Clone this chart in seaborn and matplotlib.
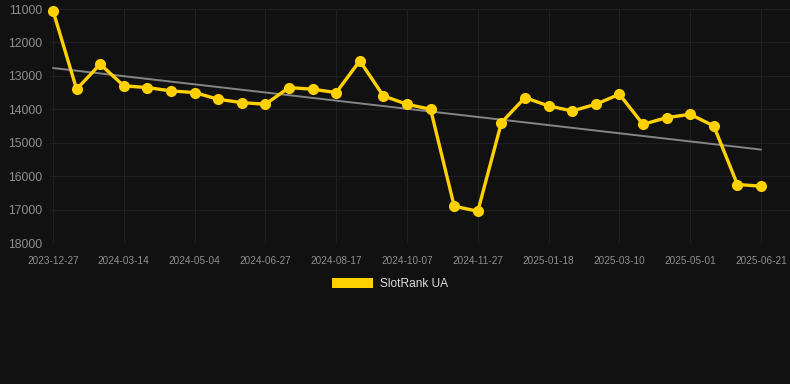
import numpy as np
import pandas as pd
import matplotlib
matplotlib.use("Agg")
import matplotlib.pyplot as plt
import seaborn as sns
from matplotlib.patches import Patch

# tick labels (every 3rd sample)
tick_labels = ["2023-12-27", "2024-03-14", "2024-05-04", "2024-06-27", "2024-08-17",
               "2024-10-07", "2024-11-27", "2025-01-18", "2025-03-10", "2025-05-01",
               "2025-06-21"]

# rank values
ranks = [11050, 13400, 12650, 13300, 13350, 13450, 13500, 13700, 13800, 13850,
         13350, 13400, 13500, 12550, 13600, 13850, 14000, 16900, 17050, 14400,
         13650, 13900, 14050, 13850, 13550, 14450, 14250, 14150, 14500, 16250,
         16300]

series_name = "SlotRank UA"

df = pd.DataFrame({"idx": np.arange(len(ranks)), "rank": ranks})

# linear trend
coef = np.polyfit(df["idx"], df["rank"], 1)
df["trend"] = np.polyval(coef, df["idx"])

bg = "#111111"
sns.set_style("dark", {"axes.facecolor": bg, "figure.facecolor": bg,
                       "grid.color": "#1f1f1f", "axes.edgecolor": bg})
plt.rcParams["font.family"] = ["Liberation Sans", "DejaVu Sans"]

fig = plt.figure(figsize=(7.9, 3.84), dpi=100)
ax = fig.add_axes([50 / 790, 1 - 243 / 384, 740 / 790, 234 / 384])

ax.grid(True, color="#1f1f1f", linewidth=0.8)
sns.lineplot(data=df, x="idx", y="trend", ax=ax, color="#858585",
             linewidth=1.4, zorder=2)
sns.lineplot(data=df, x="idx", y="rank", ax=ax, color="#FFD100",
             linewidth=2.4, marker="o", markersize=8, markeredgewidth=0,
             zorder=3, clip_on=False)

step = 708 / 30  # px per sample
ax.set_ylim(18000, 11000)
ax.set_yticks(range(11000, 18001, 1000))
ax.set_xlim(-3 / step, len(ranks) - 1 + 29 / step)
ax.set_xticks(np.arange(0, len(ranks), 3))
ax.set_xticklabels(tick_labels)
ax.tick_params(axis="x", colors="#8f8f8f", labelsize=7.2, length=0, pad=9)
ax.tick_params(axis="y", colors="#8f8f8f", labelsize=8.8, length=0, pad=5.5)
ax.set_xlabel("")
ax.set_ylabel("")
for s in ax.spines.values():
    s.set_visible(False)

handle = Patch(facecolor="#FFD100", edgecolor="none")
fig.legend([handle], [series_name], loc="center", bbox_to_anchor=(390 / 790, 1 - 284 / 384),
           frameon=False, labelcolor="#dddddd", fontsize=8.6, handlelength=3.4,
           handleheight=0.9, handletextpad=0.6)

fig.savefig("out.png", dpi=100, facecolor=bg)
